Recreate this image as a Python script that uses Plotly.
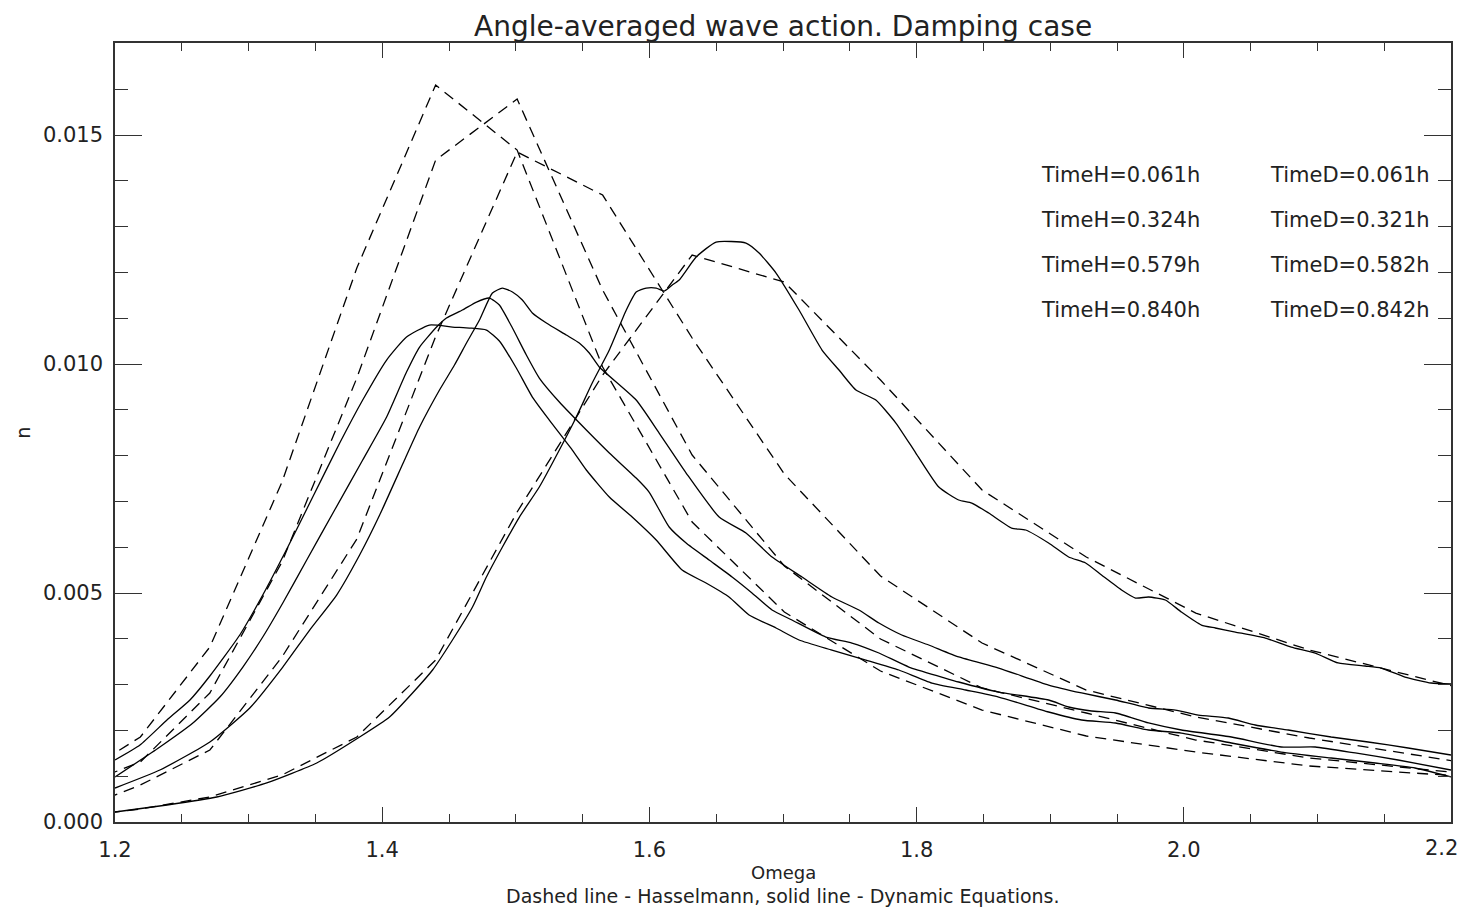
import plotly.graph_objects as go

# ---------------- data ----------------
# Hasselmann (dashed) curves: coarse frequency grid
omega_h = [1.169, 1.219, 1.271, 1.325, 1.381, 1.440, 1.501, 1.565, 1.632,
           1.701, 1.773, 1.849, 1.927, 2.009, 2.094, 2.183, 2.276]
n_h_0061 = [0.00011, 0.000284, 0.000546, 0.001026, 0.001856, 0.003537, 0.006769, 0.009760, 0.012380,
            0.011790, 0.009651, 0.007249, 0.005786, 0.004563, 0.003755, 0.003100, 0.00242]
n_h_0324 = [0.00023, 0.000808, 0.001572, 0.003603, 0.006179, 0.010600, 0.014629, 0.013690, 0.010568,
            0.007598, 0.005371, 0.003908, 0.002882, 0.002293, 0.001834, 0.001419, 0.000985]
n_h_0579 = [0.00074, 0.00131, 0.002817, 0.005677, 0.009694, 0.014454, 0.015786, 0.011616, 0.008013,
            0.005590, 0.003996, 0.002926, 0.002380, 0.001790, 0.001397, 0.001135, 0.00087]
n_h_0840 = [0.00094, 0.001856, 0.003821, 0.007424, 0.012096, 0.016092, 0.014673, 0.009935, 0.006550,
            0.004585, 0.003297, 0.002445, 0.001878, 0.001528, 0.001223, 0.001048, 0.000865]

# Dynamic equations (solid) curves
omega_d_0061 = [1.2000, 1.2389, 1.2762, 1.3136, 1.3510, 1.3831, 1.4055, 1.4227, 1.4377, 1.4526,
                1.4676, 1.4780, 1.4900, 1.5027, 1.5176, 1.5326, 1.5453, 1.5572, 1.5700, 1.5827,
                1.5901, 1.5976, 1.6051, 1.6111, 1.6171, 1.6223, 1.6350, 1.6499, 1.6723, 1.6821,
                1.6948, 1.7120, 1.7292, 1.7419, 1.7546, 1.7695, 1.7845, 1.7994, 1.8166, 1.8315,
                1.8413, 1.8540, 1.8711, 1.8816, 1.8988, 1.9138, 1.9265, 1.9384, 1.9534, 1.9638,
                1.9736, 1.9862, 1.9982, 2.0132, 2.0236, 2.0386, 2.0610, 2.0804, 2.0984, 2.1155,
                2.1357, 2.1477, 2.1656, 2.1851, 2.2000]
n_d_0061 = [0.000218, 0.000371, 0.000546, 0.000852, 0.001288, 0.001856, 0.002293, 0.002817, 0.003319, 0.003974,
            0.004694, 0.005349, 0.006004, 0.006659, 0.007314, 0.008122, 0.008843, 0.009585, 0.010306, 0.011179,
            0.011572, 0.011659, 0.011659, 0.011594, 0.011725, 0.011834, 0.012336, 0.012664, 0.012642, 0.012424,
            0.011987, 0.011179, 0.010306, 0.009869, 0.009432, 0.009214, 0.008712, 0.008057, 0.007314, 0.007031,
            0.006965, 0.006747, 0.006419, 0.006376, 0.006092, 0.005786, 0.005655, 0.005393, 0.005066, 0.004891,
            0.004913, 0.004847, 0.004585, 0.004301, 0.004236, 0.004148, 0.004017, 0.003821, 0.003690, 0.003472,
            0.003406, 0.003362, 0.003166, 0.003035, 0.003013]

omega_d_0321 = [1.2000, 1.2336, 1.2710, 1.3009, 1.3256, 1.3457, 1.3659, 1.3831, 1.3981, 1.4167,
                1.4280, 1.4429, 1.4541, 1.4631, 1.4728, 1.4825, 1.4900, 1.4975, 1.5049, 1.5124,
                1.5229, 1.5378, 1.5475, 1.5550, 1.5625, 1.5901, 1.6073, 1.6275, 1.6522, 1.6723,
                1.6918, 1.7142, 1.7366, 1.7568, 1.7718, 1.7889, 1.8091, 1.8315, 1.8614, 1.8988,
                1.9235, 1.9489, 1.9736, 1.9937, 2.0109, 2.0333, 2.0535, 2.0782, 2.1103, 2.1380,
                2.1679, 2.2000]
n_d_0321 = [0.000742, 0.001135, 0.001747, 0.002489, 0.003384, 0.004192, 0.004956, 0.005830, 0.006703, 0.007904,
            0.008624, 0.009432, 0.009978, 0.010459, 0.010961, 0.011550, 0.011659, 0.011572, 0.011397, 0.011114,
            0.010895, 0.010633, 0.010459, 0.010240, 0.009935, 0.009214, 0.008493, 0.007620, 0.006659, 0.006310,
            0.005786, 0.005349, 0.004913, 0.004629, 0.004345, 0.004083, 0.003865, 0.003603, 0.003362, 0.002991,
            0.002817, 0.002664, 0.002489, 0.002445, 0.002336, 0.002271, 0.002118, 0.002009, 0.001856, 0.001747,
            0.001616, 0.001463]

omega_d_0582 = [1.2000, 1.2336, 1.2583, 1.2785, 1.2957, 1.3106, 1.3256, 1.3435, 1.3644, 1.3854,
                1.4033, 1.4182, 1.4280, 1.4407, 1.4481, 1.4601, 1.4706, 1.4803, 1.4877, 1.4975,
                1.5079, 1.5176, 1.5326, 1.5528, 1.5700, 1.5901, 1.5999, 1.6148, 1.6275, 1.6447,
                1.6619, 1.6768, 1.6918, 1.7067, 1.7321, 1.7516, 1.7718, 1.7942, 1.8188, 1.8315,
                1.8614, 1.8988, 1.9138, 1.9309, 1.9489, 1.9736, 1.9982, 2.0356, 2.0729, 2.0984,
                2.1283, 2.1604, 2.2000]
n_d_0582 = [0.000983, 0.001638, 0.002162, 0.002729, 0.003384, 0.004039, 0.004782, 0.005721, 0.006812, 0.007904,
            0.008843, 0.009825, 0.010371, 0.010808, 0.011004, 0.011179, 0.011354, 0.011441, 0.011288, 0.010786,
            0.010197, 0.009694, 0.009170, 0.008559, 0.008057, 0.007510, 0.007200, 0.006441, 0.006092, 0.005721,
            0.005349, 0.005000, 0.004629, 0.004410, 0.004039, 0.003908, 0.003690, 0.003384, 0.003166, 0.003057,
            0.002838, 0.002664, 0.002511, 0.002424, 0.002380, 0.002162, 0.002009, 0.001856, 0.001638, 0.001638,
            0.001507, 0.001354, 0.001135]

omega_d_0842 = [1.2000, 1.2187, 1.2389, 1.2561, 1.2710, 1.2934, 1.3106, 1.3286, 1.3480, 1.3682,
                1.3854, 1.4033, 1.4182, 1.4354, 1.4526, 1.4653, 1.4780, 1.4877, 1.5004, 1.5124,
                1.5251, 1.5423, 1.5528, 1.5700, 1.5871, 1.6051, 1.6245, 1.6424, 1.6596, 1.6746,
                1.6948, 1.7120, 1.7366, 1.7620, 1.7867, 1.8114, 1.8368, 1.8614, 1.8988, 1.9235,
                1.9489, 1.9736, 1.9982, 2.0356, 2.0729, 2.1103, 2.1432, 2.1731, 2.2000]
n_d_0842 = [0.001354, 0.001681, 0.002227, 0.002664, 0.003188, 0.004083, 0.004956, 0.005961, 0.007096, 0.008275,
            0.009214, 0.010087, 0.010590, 0.010852, 0.010808, 0.010786, 0.010742, 0.010502, 0.009913, 0.009279,
            0.008777, 0.008122, 0.007686, 0.007096, 0.006659, 0.006157, 0.005502, 0.005218, 0.004913, 0.004520,
            0.004236, 0.003974, 0.003755, 0.003537, 0.003319, 0.003035, 0.002882, 0.002729, 0.002402, 0.002227,
            0.002162, 0.002009, 0.001943, 0.001725, 0.001528, 0.001397, 0.001288, 0.001179, 0.000983]

labels_h = ["TimeH=0.061h", "TimeH=0.324h", "TimeH=0.579h", "TimeH=0.840h"]
labels_d = ["TimeD=0.061h", "TimeD=0.321h", "TimeD=0.582h", "TimeD=0.842h"]

x_tick_vals = [1.2, 1.4, 1.6, 1.8, 2.0, 2.2]
x_tick_text = ["1.2", "1.4", "1.6", "1.8", "2.0", "2.2"]

title = "Angle-averaged wave action. Damping case"
x_title = "Omega"
y_title = "n"
subtitle = "Dashed line - Hasselmann, solid line - Dynamic Equations."

# ---------------- figure ----------------
FONT = "DejaVu Sans"
TXT = "#222222"
fig = go.Figure()

dashed = [(n_h_0061, labels_h[0]), (n_h_0324, labels_h[1]),
          (n_h_0579, labels_h[2]), (n_h_0840, labels_h[3])]
for yv, nm in dashed:
    fig.add_trace(go.Scatter(x=omega_h, y=yv, mode="lines", name=nm,
                             line=dict(color="black", width=1.3, dash="11px,7px")))

solid = [(omega_d_0061, n_d_0061, labels_d[0]), (omega_d_0321, n_d_0321, labels_d[1]),
         (omega_d_0582, n_d_0582, labels_d[2]), (omega_d_0842, n_d_0842, labels_d[3])]
for xv, yv, nm in solid:
    fig.add_trace(go.Scatter(x=xv, y=yv, mode="lines", name=nm,
                             line=dict(color="black", width=1.3, shape="spline", smoothing=0.5)))

# text labels (TimeH / TimeD)
row_y = [0.01413, 0.01314, 0.01216, 0.01118]
for i in range(4):
    fig.add_annotation(x=1.8913, y=row_y[i], xref="x", yref="y", text=labels_h[i],
                       showarrow=False, xanchor="left", yanchor="middle",
                       font=dict(family=FONT, size=21, color=TXT))
    fig.add_annotation(x=2.0632, y=row_y[i], xref="x", yref="y", text=labels_d[i],
                       showarrow=False, xanchor="left", yanchor="middle",
                       font=dict(family=FONT, size=21, color=TXT))

fig.add_annotation(x=0.5, y=1.0218, xref="paper", yref="paper", text=title, showarrow=False,
                   xanchor="center", yanchor="middle", font=dict(family=FONT, size=28, color=TXT))
fig.add_annotation(x=0.5, y=-0.0642, xref="paper", yref="paper", text=x_title, showarrow=False,
                   xanchor="center", yanchor="middle", font=dict(family=FONT, size=18, color=TXT))
fig.add_annotation(x=0.5, y=-0.0950, xref="paper", yref="paper", text=subtitle, showarrow=False,
                   xanchor="center", yanchor="middle", font=dict(family=FONT, size=19, color=TXT))
fig.add_annotation(x=-0.0695, y=0.5, xref="paper", yref="paper", text=y_title, showarrow=False,
                   textangle=-90, xanchor="center", yanchor="middle",
                   font=dict(family=FONT, size=19, color=TXT))
# last x tick label: right-anchored so it stays inside the page
fig.add_annotation(x=1.0067, y=-0.0334, xref="paper", yref="paper", text=x_tick_text[-1],
                   showarrow=False, xanchor="right", yanchor="middle",
                   font=dict(family=FONT, size=21, color=TXT))

axis_common = dict(showgrid=False, zeroline=False, showline=True, linecolor="#333333", linewidth=1.5,
                   mirror="allticks", ticks="inside", tickcolor="#333333", tickwidth=1.2,
                   tickfont=dict(family=FONT, size=21, color=TXT))

fig.update_xaxes(range=[1.2, 2.2], tickmode="array", tickvals=x_tick_vals,
                 ticktext=x_tick_text[:-1] + [""],
                 ticklen=15, ticklabelstandoff=8,
                 minor=dict(dtick=0.05, tick0=1.2, ticklen=8, ticks="inside",
                            tickcolor="#333333", tickwidth=1.2),
                 **axis_common)
fig.update_yaxes(range=[0, 0.01701], tick0=0, dtick=0.005, tickformat=".3f", ticklen=27,
                 ticklabelstandoff=6,
                 minor=dict(dtick=0.001, ticklen=13, ticks="inside", tickcolor="#333333", tickwidth=1.2),
                 **axis_common)

# the page body has an 8px margin: size the figure so the plot box lands where the reference has it
fig.update_layout(width=1457, height=900, showlegend=False,
                  paper_bgcolor="white", plot_bgcolor="white",
                  margin=dict(l=107, r=12, t=35, b=86, pad=0))

fig.write_html("out.html")
